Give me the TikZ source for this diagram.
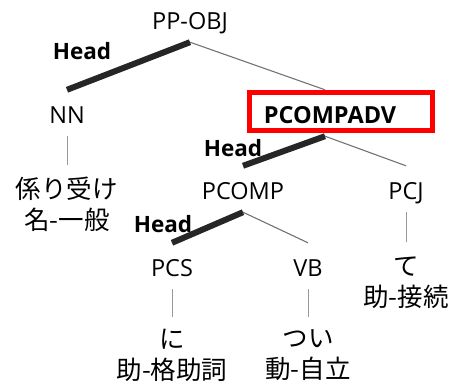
\documentclass[tikz,border=0pt]{standalone}
\usepackage{fontspec}
\setmainfont{Open Sans}
\newfontfamily\jpfont{Noto Sans CJK JP}
\usetikzlibrary{positioning}

\begin{document}
\begin{tikzpicture}[x=1pt,y=-1pt,
    cat/.style={font=\fontsize{23.5}{28}\selectfont, inner sep=0pt,
      text height=22.5pt, text depth=2pt, minimum height=46pt},
    leaf/.style={font=\jpfont\fontsize{25.5}{31}\selectfont, align=center,
      inner xsep=0pt, inner ysep=12pt, anchor=north,
      execute at begin node={\vphantom{係}}},
    headlabel/.style={font=\bfseries\fontsize{22.5}{27}\selectfont, inner sep=0pt},
    headline/.style={line width=6pt, black!85},
    depline/.style={line width=1.1pt, black!55},
    lexline/.style={line width=1pt, black!40}]
    \useasboundingbox (0,0) rectangle (456,387);

    % Phrase nodes
    \node[cat] (ppobj) at (190,19) {PP-OBJ};
    \node[cat] (nn) at (67,113) {NN};
    \node[cat, font=\bfseries\fontsize{23.5}{28}\selectfont] (pcompadv) at (330,113) {PCOMPADV};
    \node[cat] (pcomp) at (243,189) {PCOMP};
    \node[cat] (pcj) at (406,189) {PCJ};
    \node[cat] (pcs) at (172,266) {PCS};
    \node[cat] (vb) at (308,266) {VB};

    % Highlight box
    \draw[red, line width=5pt] (249.5,92.5) rectangle (432.5,130.5);

    % Words
    \node[leaf] (wnn) at (67,165) {係り受け\\名-一般};
    \node[leaf, inner ysep=15pt] (wpcj) at (406,242) {て\\助-接続};
    \node[leaf] (wpcs) at (172,317) {に\\助-格助詞};
    \node[leaf] (wvb) at (308,317) {つい\\動-自立};

    % Head labels
    \node[headlabel] (h1) at (82,51) {Head};
    \node[headlabel] (h2) at (233,148) {Head};
    \node[headlabel] (h3) at (163,224) {Head};

    % Branches
    \draw[headline] (ppobj.south) -- (nn.north);
    \draw[depline] (ppobj.south) -- ([xshift=-5pt]pcompadv.north);
    \draw[headline] ([xshift=-5pt]pcompadv.south) -- (pcomp.north);
    \draw[depline] ([xshift=-5pt]pcompadv.south) -- (pcj.north);
    \draw[headline] (pcomp.south) -- (pcs.north);
    \draw[depline] (pcomp.south) -- (vb.north);

    % Lexical links
    \draw[lexline] (nn.south) -- (wnn.north);
    \draw[lexline] (pcj.south) -- (wpcj.north);
    \draw[lexline] (pcs.south) -- (wpcs.north);
    \draw[lexline] (vb.south) -- (wvb.north);
\end{tikzpicture}
\end{document}
